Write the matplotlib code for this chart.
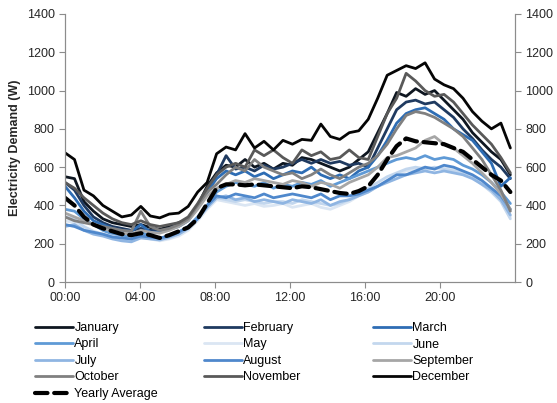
import numpy as np
import matplotlib.pyplot as plt

plt.rcParams['font.family'] = ['Liberation Sans', 'DejaVu Sans']

# half-hourly readings (last one at 23:45)
hours = np.linspace(0, 23.75, 48)

december = [675, 640, 480, 450, 400, 370, 340, 350, 395, 345, 335, 355, 360, 395, 470, 520,
            670, 705, 690, 775, 700, 735, 690, 740, 720, 745, 740, 825, 760, 745, 780, 790,
            850, 960, 1080, 1105, 1130, 1115, 1145, 1060, 1030, 1010, 960, 890, 840, 800, 830, 700]
january = [550, 540, 420, 370, 330, 310, 300, 290, 300, 285, 275, 290, 310, 330, 400, 500,
           570, 610, 600, 640, 600, 620, 590, 620, 610, 650, 640, 620, 600, 580, 600, 640,
           680, 780, 880, 990, 970, 1010, 980, 1000, 950, 900, 850, 780, 730, 680, 640, 560]
february = [520, 480, 400, 340, 310, 290, 280, 270, 280, 270, 265, 280, 300, 330, 400, 470,
            560, 660, 590, 600, 580, 610, 590, 600, 620, 640, 620, 640, 620, 630, 610, 620,
            600, 700, 800, 900, 940, 950, 930, 940, 900, 860, 800, 750, 690, 640, 600, 540]
march = [500, 440, 370, 320, 300, 280, 270, 265, 300, 260, 260, 275, 290, 320, 390, 470,
         540, 580, 560, 580, 550, 570, 540, 560, 580, 570, 600, 560, 540, 560, 540, 580,
         600, 660, 740, 830, 880, 900, 910, 880, 850, 800, 770, 740, 680, 620, 500, 545]
april = [380, 370, 330, 300, 270, 250, 240, 235, 260, 240, 230, 240, 260, 290, 340, 400,
         470, 500, 520, 510, 500, 520, 490, 510, 500, 520, 510, 530, 500, 520, 540, 560,
         580, 600, 620, 640, 650, 640, 660, 640, 650, 640, 610, 590, 560, 520, 470, 410]
may = [320, 310, 280, 260, 245, 230, 225, 220, 235, 225, 215, 225, 240, 270, 320, 380,
       430, 420, 410, 400, 410, 395, 400, 410, 390, 400, 410, 390, 380, 400, 420, 450,
       470, 500, 530, 560, 580, 590, 600, 590, 600, 590, 570, 550, 520, 480, 430, 340]
june = [340, 330, 290, 265, 250, 240, 230, 225, 240, 230, 220, 230, 250, 280, 330, 390,
        440, 430, 420, 430, 420, 410, 420, 420, 410, 430, 420, 410, 400, 410, 430, 460,
        490, 520, 550, 570, 590, 600, 590, 600, 590, 580, 570, 550, 510, 470, 420, 330]
july = [290, 300, 270, 250, 240, 225, 215, 210, 230, 225, 220, 235, 250, 280, 330, 390,
        440, 450, 430, 440, 420, 430, 420, 410, 430, 420, 410, 430, 400, 420, 430, 450,
        470, 500, 520, 540, 560, 570, 580, 570, 580, 570, 560, 540, 510, 480, 430, 350]
august = [300, 290, 270, 260, 250, 235, 230, 225, 240, 235, 230, 240, 260, 290, 330, 400,
          450, 440, 460, 450, 440, 460, 440, 450, 460, 450, 440, 460, 430, 450, 450, 460,
          480, 500, 530, 560, 560, 580, 600, 590, 610, 600, 580, 560, 530, 490, 450, 380]
september = [360, 340, 320, 300, 280, 265, 255, 250, 270, 260, 255, 270, 290, 320, 380, 450,
             490, 510, 530, 520, 540, 530, 520, 510, 530, 520, 500, 520, 510, 490, 520, 540,
             560, 600, 650, 660, 680, 700, 740, 760, 720, 700, 660, 620, 570, 520, 460, 380]
october = [340, 320, 310, 300, 290, 280, 270, 265, 370, 290, 270, 280, 300, 330, 400, 470,
           510, 560, 600, 580, 640, 600, 580, 560, 570, 540, 560, 590, 560, 540, 570, 600,
           620, 660, 720, 800, 870, 890, 880, 860, 830, 800, 760, 700, 640, 560, 480, 370]
november = [520, 490, 440, 400, 360, 330, 310, 300, 320, 300, 290, 300, 310, 340, 410, 490,
            560, 600, 620, 600, 690, 660, 690, 650, 620, 690, 660, 680, 640, 650, 690, 650,
            640, 760, 880, 960, 1090, 1050, 1000, 970, 980, 940, 880, 820, 770, 720, 650, 570]
yearly_average = [440, 400, 340, 300, 280, 265, 250, 245, 255, 245, 230, 245, 265, 285, 330, 410,
                  490, 510, 510, 505, 510, 505, 500, 495, 490, 500, 495, 485, 475, 465, 460, 475,
                  500, 560, 640, 710, 750, 735, 730, 725, 720, 700, 680, 640, 600, 560, 530, 470]

months = ['January', 'February', 'March', 'April', 'May', 'June',
          'July', 'August', 'September', 'October', 'November', 'December']
series = [january, february, march, april, may, june,
          july, august, september, october, november, december]
colors = ['#0e1620', '#1f3a60', '#2e6db4', '#5f9ad6', '#dbe6f3', '#c3d7ee',
          '#8fb5e2', '#4f88cc', '#a6a6a6', '#808080', '#595959', '#050505']

tick_hours = [0, 4, 8, 12, 16, 20]
tick_labels = ['00:00', '04:00', '08:00', '12:00', '16:00', '20:00']

fig = plt.figure(figsize=(5.57, 4.03), dpi=100)
ax = fig.add_axes([0.1167, 0.3002, 0.808, 0.6651])

handles = []
for vals, name, c in zip(series, months, colors):
    h, = ax.plot(hours, vals, color=c, lw=2.0, label=name, solid_capstyle='round')
    handles.append(h)
avg, = ax.plot(hours, yearly_average, color='black', lw=3.0, linestyle=(0, (3, 1.6)),
               dash_capstyle='round', label='Yearly Average')

ax.set_xlim(0, 24)
ax.set_ylim(0, 1400)
ax.set_xticks(tick_hours)
ax.set_xticklabels(tick_labels)
ax.set_yticks(range(0, 1401, 200))
ax.set_ylabel('Electricity Demand (W)', fontsize=9, fontweight='bold', color='#262626')

ax2 = ax.twinx()
ax2.set_ylim(0, 1400)
ax2.set_yticks(range(0, 1401, 200))

for a in (ax, ax2):
    for s in a.spines.values():
        s.set_color('#8c8c8c')
    a.spines['top'].set_visible(False)
    a.tick_params(colors='#8c8c8c', labelcolor='#262626', labelsize=9, length=4, direction='out')

# legend in three equal-width columns, row-major like the original
cols_x = [35, 204, 373]
entries = handles + [avg]
for j, x0 in enumerate(cols_x):
    col = entries[j::3]
    fig.legend(handles=col, labels=[h.get_label() for h in col],
               loc='upper left', bbox_to_anchor=(x0 / 557, 1 - 322 / 403),
               frameon=False, fontsize=9, handlelength=3.0, handletextpad=0.15,
               labelspacing=0.36, borderpad=0, borderaxespad=0)

fig.savefig('out.png', dpi=100)
